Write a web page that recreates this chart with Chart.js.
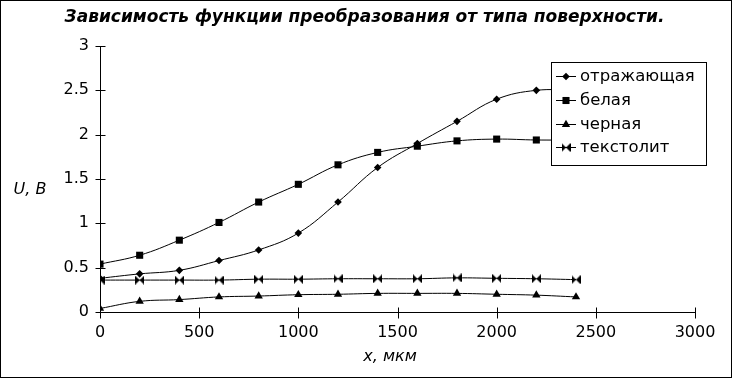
<!DOCTYPE html>
<html>
<head>
<meta charset="utf-8">
<script src="https://cdn.jsdelivr.net/npm/chart.js@4/dist/chart.umd.min.js"></script>
<style>
html,body{margin:0;padding:0;background:#fff;}
#wrap{width:732px;height:378px;position:relative;}
</style>
</head>
<body>
<div id="wrap"><canvas id="c" width="732" height="378"></canvas></div>
<script>
const FONT = "'DejaVu Sans', sans-serif";
const titleText = "Зависимость функции преобразования от типа поверхности.";
const xTitle = "x, мкм";
const yTitle = "U, B";

const xValues = [0, 200, 400, 600, 800, 1000, 1200, 1400, 1600, 1800, 2000, 2200, 2400];
const seriesNames = ["отражающая", "белая", "черная", "текстолит"];
const reflective = [0.38, 0.43, 0.47, 0.58, 0.70, 0.89, 1.24, 1.63, 1.90, 2.15, 2.40, 2.50, 2.50];
const white      = [0.54, 0.64, 0.81, 1.01, 1.24, 1.44, 1.66, 1.80, 1.87, 1.93, 1.95, 1.94, 1.94];
const black      = [0.04, 0.12, 0.14, 0.17, 0.18, 0.195, 0.20, 0.21, 0.21, 0.21, 0.20, 0.19, 0.17];
const textolite  = [0.36, 0.36, 0.36, 0.36, 0.37, 0.37, 0.375, 0.375, 0.375, 0.385, 0.38, 0.375, 0.365];
const xTicks = [0, 500, 1000, 1500, 2000, 2500, 3000];
const yTicks = [0, 0.5, 1, 1.5, 2, 2.5, 3];

function bowtie(size) {
  const cv = document.createElement('canvas');
  cv.width = size; cv.height = size;
  const g = cv.getContext('2d');
  g.fillStyle = '#000';
  g.beginPath();
  g.moveTo(0, 0); g.lineTo(size / 2, size / 2); g.lineTo(0, size); g.closePath();
  g.moveTo(size, 0); g.lineTo(size / 2, size / 2); g.lineTo(size, size); g.closePath();
  g.fill();
  return cv;
}
const bowImg = bowtie(9);

const styles = [
  {pointStyle: 'rectRot', radius: 3.8},
  {pointStyle: 'rect', radius: 5},
  {pointStyle: 'triangle', radius: 4.8},
  {pointStyle: bowImg, radius: 4.5}
];
const dataSets = [reflective, white, black, textolite];

const datasets = dataSets.map((arr, i) => ({
  label: seriesNames[i],
  data: arr.map((v, j) => ({x: xValues[j], y: v})),
  borderColor: '#000',
  backgroundColor: '#000',
  borderWidth: 1,
  pointStyle: styles[i].pointStyle,
  pointRadius: styles[i].radius,
  pointBorderWidth: 0,
  pointBackgroundColor: '#000',
  tension: 0.4,
  cubicInterpolationMode: 'default'
}));

const decor = {
  id: 'decor',
  afterDraw(chart) {
    const ctx = chart.ctx;
    const xs = chart.scales.x, ys = chart.scales.y;
    ctx.save();
    ctx.strokeStyle = '#000';
    ctx.lineWidth = 1;
    // tick marks crossing the axes
    const ax = Math.round(xs.left) + 0.5;
    const ay = Math.round(ys.bottom) + 0.5;
    ctx.beginPath();
    yTicks.forEach(v => {
      const py = Math.round(ys.getPixelForValue(v)) + 0.5;
      ctx.moveTo(ax - 5, py); ctx.lineTo(ax + 5, py);
    });
    xTicks.forEach(v => {
      const px = Math.round(xs.getPixelForValue(v)) + 0.5;
      ctx.moveTo(px, ay - 5); ctx.lineTo(px, ay + 6);
    });
    ctx.stroke();

    // title
    ctx.fillStyle = '#000';
    ctx.textAlign = 'center';
    ctx.textBaseline = 'middle';
    ctx.font = "italic bold 17px " + FONT;
    ctx.fillText(titleText, 364.5, 18);
    // axis titles
    ctx.font = "italic 16px " + FONT;
    ctx.fillText(xTitle, 390, 357);
    ctx.fillText(yTitle, 30, 190);

    // legend
    const lx = 551.5, ly = 62.5, lw = 155, lh = 103;
    ctx.fillStyle = '#fff';
    ctx.fillRect(lx, ly, lw, lh);
    ctx.strokeRect(lx, ly, lw, lh);
    ctx.font = "16.5px " + FONT;
    ctx.textAlign = 'left';
    const rowY = [76, 100, 124, 147];
    seriesNames.forEach((name, i) => {
      const y = rowY[i];
      ctx.beginPath();
      ctx.moveTo(556, y + 0.5); ctx.lineTo(576, y + 0.5);
      ctx.stroke();
      ctx.fillStyle = '#000';
      Chart.helpers.drawPoint(ctx, {pointStyle: styles[i].pointStyle, radius: styles[i].radius, rotation: 0, borderWidth: 0}, 566, y + 0.5);
      ctx.fillStyle = '#000';
      ctx.fillText(name, 580, y + 1);
    });

    // outer border
    ctx.strokeRect(0.5, 0.5, 731, 377);
    ctx.restore();
  }
};

Chart.defaults.font.family = FONT;
Chart.defaults.color = '#000';

new Chart(document.getElementById('c'), {
  type: 'line',
  data: {datasets},
  options: {
    responsive: false,
    animation: false,
    layout: {padding: {left: 0, right: 37, top: 46, bottom: 0}},
    plugins: {legend: {display: false}, title: {display: false}, tooltip: {enabled: false}},
    scales: {
      x: {
        type: 'linear', min: 0, max: 3000,
        afterBuildTicks: s => { s.ticks = xTicks.map(v => ({value: v})); },
        grid: {display: false, drawTicks: false},
        border: {display: true, color: '#000', width: 1},
        ticks: {padding: 11, font: {size: 16}, maxRotation: 0, callback: v => String(v)},
        afterFit: s => { s.height = 66; }
      },
      y: {
        type: 'linear', min: 0, max: 3,
        afterBuildTicks: s => { s.ticks = yTicks.map(v => ({value: v})); },
        grid: {display: false, drawTicks: false},
        border: {display: true, color: '#000', width: 1},
        ticks: {padding: 11, font: {size: 16}, callback: v => String(v)},
        afterFit: s => { s.width = 100; }
      }
    }
  },
  plugins: [decor]
});
</script>
</body>
</html>
